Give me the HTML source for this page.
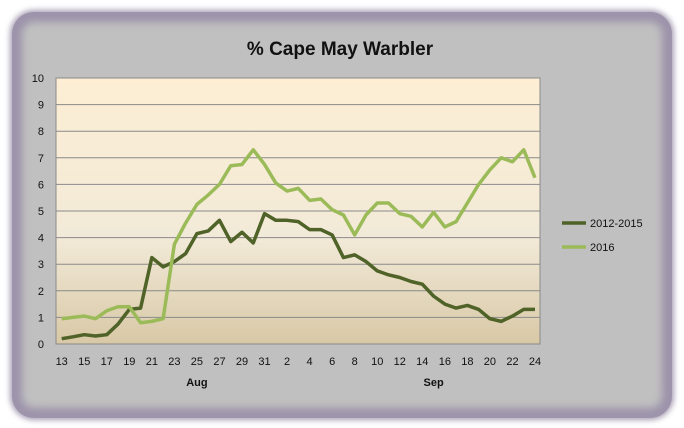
<!DOCTYPE html>
<html><head><meta charset="utf-8"><style>
body{margin:0;background:#fff;width:684px;height:428px;overflow:hidden;font-family:"Liberation Sans",sans-serif}
#frame{position:absolute;left:12px;top:12px;width:660px;height:406px;border-radius:22px;background:#c0c0c0;box-shadow:0 0 6px 2px #a89fb5, inset 0 0 8px 10px #9d93ab}
svg{position:absolute;left:0;top:0}
</style></head><body>
<div id="frame"></div>
<svg width="684" height="428" id="chart">
<defs><linearGradient id="bg" x1="0" y1="0" x2="0" y2="1"><stop offset="0" stop-color="#fdeed4"/><stop offset="0.6" stop-color="#f2ead8"/><stop offset="1" stop-color="#d8c8a6"/></linearGradient></defs>
<text x="340" y="55" text-anchor="middle" font-size="19" font-weight="bold" fill="#111">% Cape May Warbler</text>
<rect x="56" y="78" width="484" height="266" fill="url(#bg)" stroke="#8a8a8a"/>
<g id="grid"></g><g id="series"></g><g id="labels"></g>
<g>
<line x1="562" y1="223" x2="586" y2="223" stroke="#4f6228" stroke-width="3.5"/>
<text x="590" y="227" font-size="11" fill="#111">2012-2015</text>
<line x1="562" y1="247" x2="586" y2="247" stroke="#9bbb59" stroke-width="3.5"/>
<text x="590" y="251" font-size="11" fill="#111">2016</text>
</g>
</svg>
<script>
const days=[13,14,15,16,17,18,19,20,21,22,23,24,25,26,27,28,29,30,31,1,2,3,4,5,6,7,8,9,10,11,12,13,14,15,16,17,18,19,20,21,22,23,24];
const series2012=[0.2,0.27,0.35,0.3,0.35,0.75,1.3,1.35,3.25,2.9,3.1,3.4,4.15,4.25,4.65,3.85,4.2,3.8,4.9,4.65,4.65,4.6,4.3,4.3,4.1,3.25,3.35,3.1,2.75,2.6,2.5,2.35,2.25,1.8,1.5,1.35,1.45,1.3,0.95,0.85,1.05,1.3,1.3];
const series2016=[0.95,1.0,1.05,0.95,1.25,1.4,1.4,0.8,0.85,0.95,3.75,4.55,5.25,5.6,6.0,6.7,6.75,7.3,6.75,6.05,5.75,5.85,5.4,5.45,5.05,4.85,4.1,4.85,5.3,5.3,4.9,4.8,4.4,4.95,4.4,4.6,5.3,6.0,6.55,7.0,6.85,7.3,6.25];
const yTicks=[0,1,2,3,4,5,6,7,8,9,10];
const months=[{label:"Aug",index:12},{label:"Sep",index:33}];
const NS="http://www.w3.org/2000/svg";
const x=i=>61.7+i*(535-61.7)/(days.length-1);
const y=v=>344-v*26.6;
const grid=document.getElementById('grid'),labels=document.getElementById('labels'),ser=document.getElementById('series');
function mk(tag,attrs,parent){const e=document.createElementNS(NS,tag);for(const k in attrs)e.setAttribute(k,attrs[k]);parent.appendChild(e);return e;}
yTicks.forEach(t=>{
 if(t>0&&t<10){const l=mk('line',{x1:56,x2:540,y1:y(t),y2:y(t),stroke:'#8a8a8a','stroke-width':1},grid);
 
 }
 const tx=mk('text',{x:44,y:y(t)+4,'text-anchor':'end','font-size':11,fill:'#111'},labels);tx.textContent=t;
 
 
});
days.forEach((d,i)=>{if(i%2)return;
 const tx=mk('text',{x:x(i),y:365,'text-anchor':'middle','font-size':11,fill:'#111'},labels);tx.textContent=d;
 
 
});
months.forEach(m=>{const tx=mk('text',{x:x(m.index),y:386,'text-anchor':'middle','font-size':11,'font-weight':'bold',fill:'#111'},labels);tx.textContent=m.label;
 
 
});
function line(vals,color,name){const p=mk('polyline',{points:vals.map((v,i)=>x(i)+','+y(v)).join(' '),fill:'none',stroke:color,'stroke-width':3.5,'stroke-linejoin':'round'},ser);
 
 }
line(series2012,'#4f6228','series-2012-2015');
line(series2016,'#9bbb59','series-2016');
</script>
</body></html>
